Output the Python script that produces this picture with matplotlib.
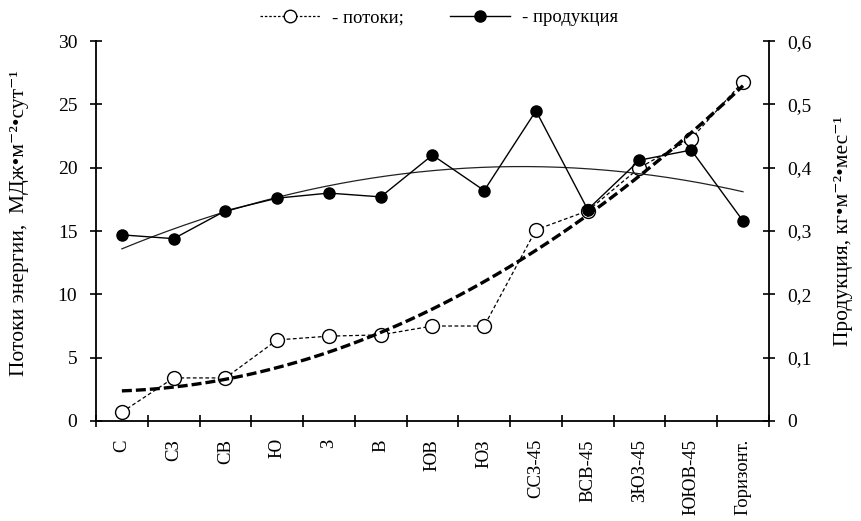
import numpy as np
import matplotlib
matplotlib.use('Agg')
import matplotlib.pyplot as plt
from matplotlib.lines import Line2D
from matplotlib.ticker import FuncFormatter

plt.rcParams['font.family'] = ['Liberation Serif', 'DejaVu Serif']

# экспозиции
storony = ['С', 'СЗ', 'СВ', 'Ю', 'З', 'В', 'ЮВ', 'ЮЗ',
           'ССЗ-45', 'ВСВ-45', 'ЗЮЗ-45', 'ЮЮВ-45', 'Горизонт.']

# потоки энергии, МДж/м2/сут
potoki = [0.7, 3.4, 3.4, 6.4, 6.7, 6.8, 7.5, 7.5, 15.1, 16.6, 20.0, 22.3, 26.8]

# продукция, кг/м2/мес
produkcia = [0.294, 0.288, 0.332, 0.352, 0.360, 0.354, 0.420, 0.364,
             0.490, 0.334, 0.412, 0.428, 0.316]

x = np.arange(1, len(storony) + 1)

# полиномиальные тренды 2-й степени
p_pot = np.polyfit(x, potoki, 2)
p_prod = np.polyfit(x, produkcia, 2)
xt = np.linspace(1, len(storony), 200)

fig = plt.figure(figsize=(8.61, 5.21), dpi=100)
ax1 = fig.add_axes([0.1115, 0.192, 0.7815, 0.729])
ax2 = ax1.twinx()

ax1.plot(x, potoki, ls=(0, (3, 2)), lw=0.9, color='black', marker='o',
         ms=10, mfc='white', mec='black', mew=1.0, zorder=3)
ax1.plot(xt, np.polyval(p_pot, xt), ls=(0, (3, 1.2)), lw=2.4, color='black', zorder=4)

ax2.plot(x, produkcia, ls='-', lw=1.0, color='black', marker='o',
         ms=8, mfc='black', mec='black', zorder=3)
ax2.plot(xt, np.polyval(p_prod, xt), ls='-', lw=0.9, color='#222222', zorder=2)

ax1.set_xlim(0.5, len(storony) + 0.5)
ax1.set_ylim(0, 30)
ax2.set_ylim(0, 0.6)
ax1.set_yticks(np.arange(0, 31, 5))
ax2.set_yticks(np.arange(0, 0.61, 0.1))
ax2.yaxis.set_major_formatter(FuncFormatter(lambda v, p: ('%g' % round(v, 1)).replace('.', ',')))

ax1.set_xticks(x)
ax1.set_xticklabels(storony, rotation=90, va='top')
ax1.set_xticks(np.arange(0.5, len(storony) + 1, 1), minor=True)
ax1.tick_params(axis='x', which='major', length=0, pad=13, labelsize=13.5)
ax1.tick_params(axis='x', which='minor', direction='inout', length=9, width=1.2)
ax1.tick_params(axis='y', direction='inout', length=9, width=1.2, labelsize=14, pad=9)
ax2.tick_params(axis='y', direction='inout', length=9, width=1.2, labelsize=14, pad=9)

for a in (ax1, ax2):
    a.spines['top'].set_visible(False)
    for s in a.spines.values():
        s.set_linewidth(1.3)
ax1.spines['right'].set_visible(False)
ax2.spines['left'].set_visible(False)
ax2.spines['bottom'].set_visible(False)

ax1.set_ylabel('Потоки энергии,  МДж•м⁻²•сут⁻¹', fontsize=15.5, labelpad=17)
ax1.yaxis.set_label_coords(-0.1, 0.52)
ax2.set_ylabel('Продукция, кг•м⁻²•мес⁻¹', fontsize=15.5, labelpad=16)

handles = [
    Line2D([], [], ls=(0, (2, 1.5)), lw=0.9, color='black', marker='o', ms=9,
           mfc='white', mec='black'),
    Line2D([], [], ls='-', lw=1.0, color='black', marker='o', ms=8,
           mfc='black', mec='black'),
]
fig.legend(handles, ['- потоки;', '- продукция'], loc='upper center',
           bbox_to_anchor=(0.51, 1.015), ncol=2, frameon=False, fontsize=13.5,
           handlelength=3.2, columnspacing=2.5, handletextpad=0.6)

fig.savefig('out.png', dpi=100)
